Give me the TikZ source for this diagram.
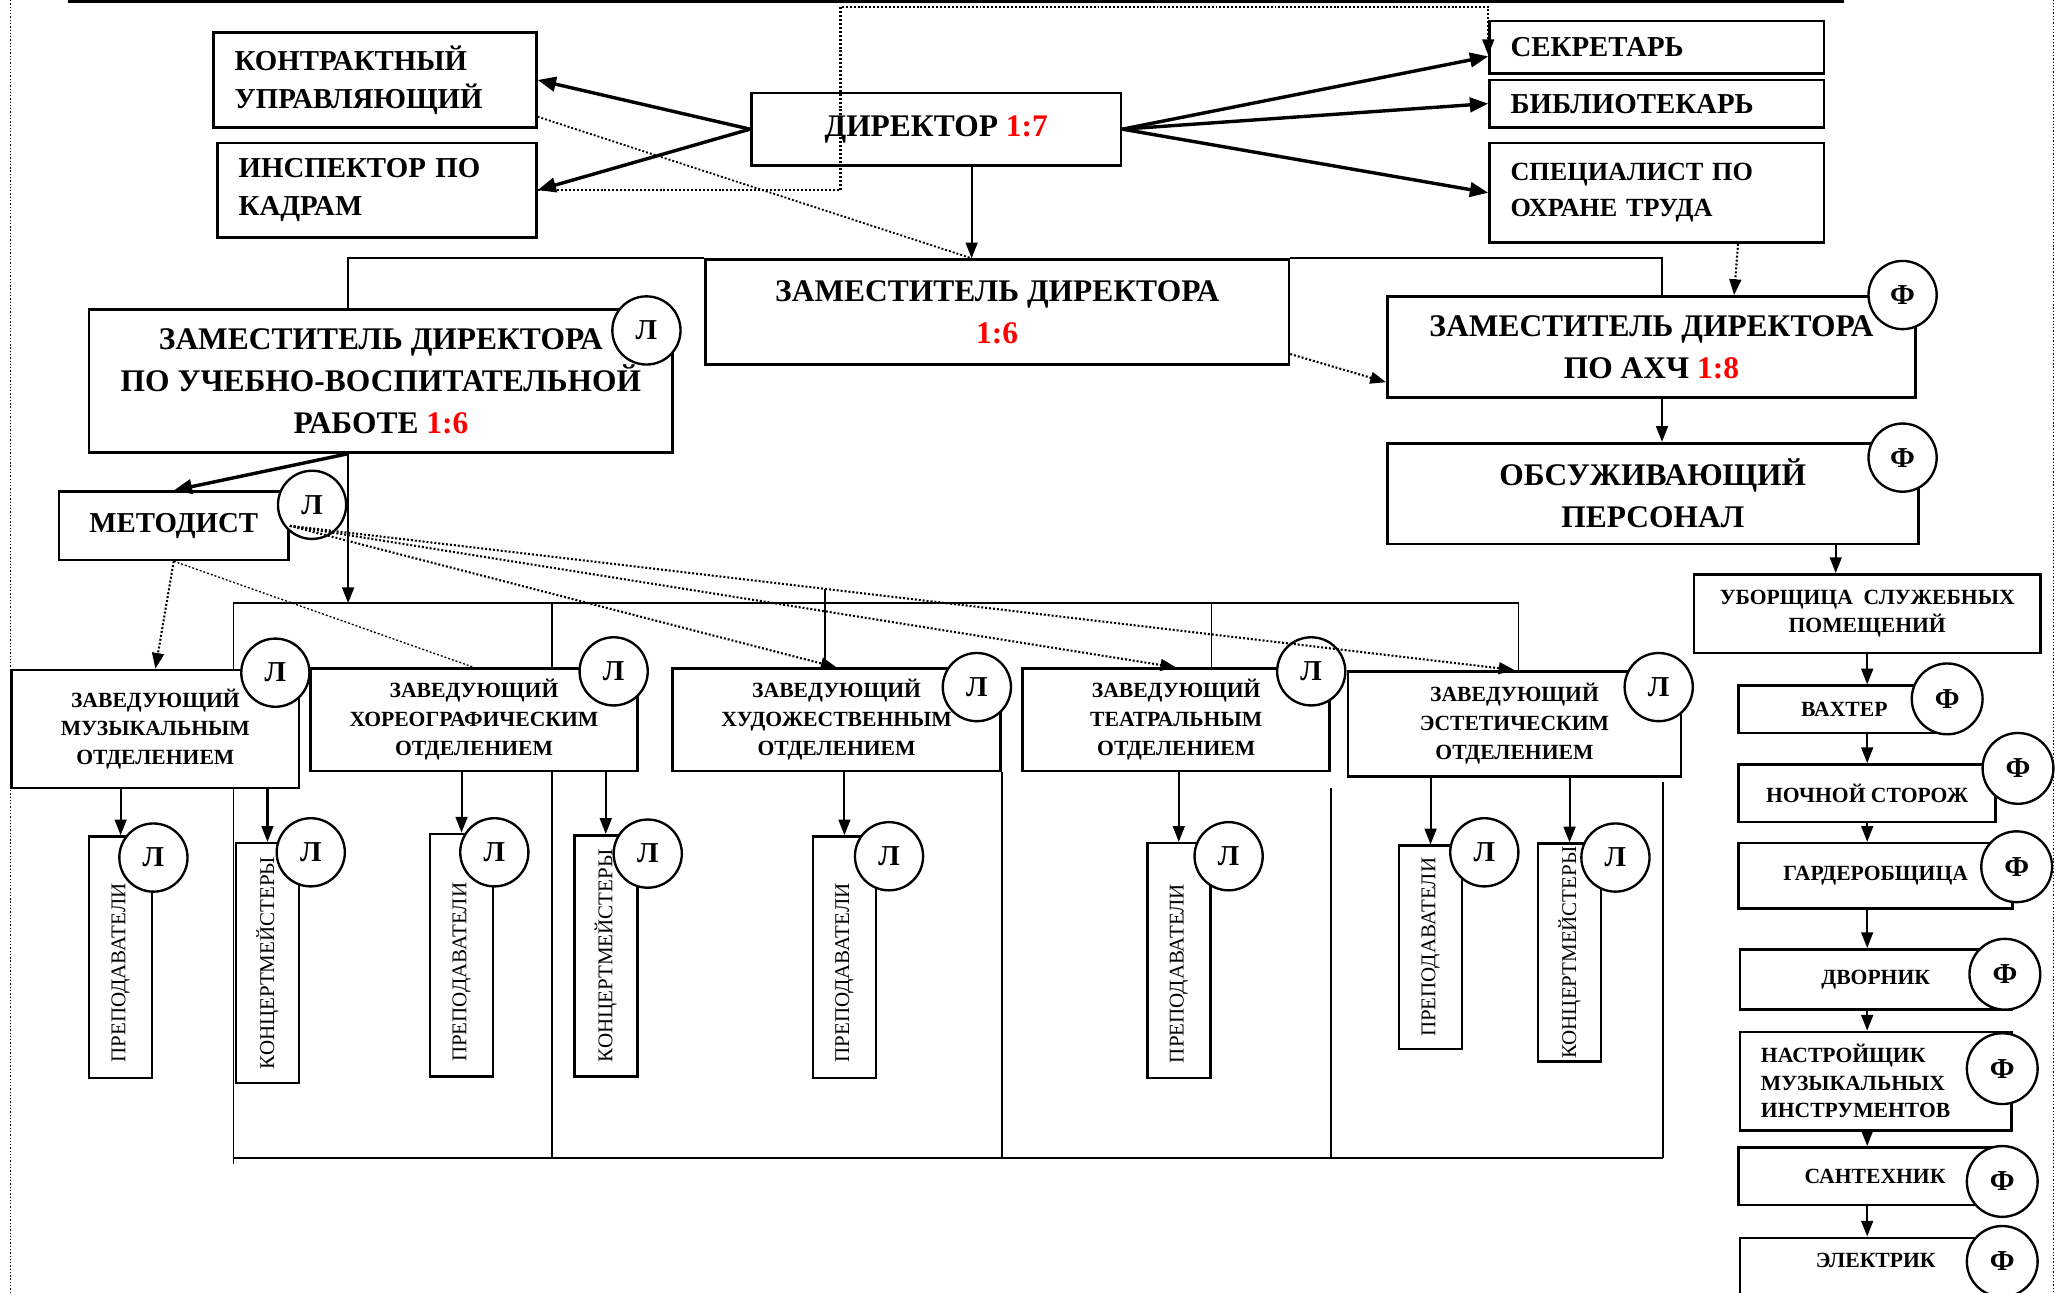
\documentclass[tikz,border=0pt]{standalone}
\usepackage{fontspec}
\setmainfont{Liberation Serif}
\usetikzlibrary{arrows.meta}
\tikzstyle{box} = [rectangle, draw=black, line width=2pt, inner sep=4pt, align=center, font=\bfseries\fontsize{24}{32}\selectfont]
\tikzstyle{boxL} = [rectangle, draw=black, line width=2pt, inner ysep=4pt, inner xsep=16pt, align=left, font=\bfseries\fontsize{22}{29}\selectfont]
\tikzstyle{head} = [rectangle, draw=black, line width=2pt, inner sep=2pt, align=center, font=\bfseries\fontsize{16.5}{22}\selectfont]
\tikzstyle{staff} = [rectangle, draw=black, line width=2pt, inner sep=2pt, align=center, font=\bfseries\fontsize{16.5}{21}\selectfont]
\tikzstyle{vbox} = [rectangle, draw=black, line width=2pt, rotate=90, minimum height=48pt, inner sep=2pt, font=\fontsize{16}{19}\selectfont]
\tikzstyle{circ} = [circle, draw=black, line width=1.8pt, fill=white, minimum size=52pt, inner sep=0pt, font=\bfseries\fontsize{22}{24}\selectfont]
\tikzstyle{thinline} = [line width=1.3pt]
\tikzstyle{arrow} = [line width=1.6pt, -{Triangle[length=12pt,width=9pt]}]
\tikzstyle{arrowB} = [line width=2.6pt, -{Triangle[length=14pt,width=11pt]}]
\tikzstyle{darrow} = [line width=1.6pt, dash pattern=on 1.5pt off 1.5pt, -{Triangle[length=12pt,width=9pt]}]
\tikzstyle{dline} = [line width=1.4pt, dash pattern=on 1.5pt off 1.5pt]
\tikzstyle{dotframe} = [line width=1pt, dash pattern=on 1pt off 1.5pt]
\newcommand{\redtxt}[1]{{\color{red}#1}}

\begin{document}
\begin{tikzpicture}[x=1pt,y=-1pt]
\useasboundingbox (0,0) rectangle (1568,986);
\draw [dotframe] (8,-20) rectangle (1566,1010);
\node (sovet) [rectangle, draw=black, line width=2pt, minimum width=1352pt, minimum height=60pt] at (729,-29) {};

% administration
\node (dir) [box, minimum width=282pt, minimum height=55pt] at (714,98.5) {ДИРЕКТОР \redtxt{1:7}};
\node (kontr) [boxL, text width=214pt, minimum height=72pt] at (286,61) {КОНТРАКТНЫЙ\\УПРАВЛЯЮЩИЙ};
\node (insp) [boxL, text width=211pt, minimum height=72pt] at (287.5,145) {ИНСПЕКТОР ПО\\КАДРАМ};
\node (sekr) [boxL, text width=223pt, minimum height=40pt] at (1263.5,36) {СЕКРЕТАРЬ};
\node (bibl) [boxL, text width=223pt, minimum height=36pt] at (1263.5,79) {БИБЛИОТЕКАРЬ};
\node (spec) [boxL, text width=223pt, minimum height=76pt, font=\bfseries\fontsize{20}{28}\selectfont] at (1263.5,147) {СПЕЦИАЛИСТ ПО\\ОХРАНЕ ТРУДА};

% deputies
\node (zam) [box, minimum width=445pt, minimum height=80pt] at (760.5,238) {ЗАМЕСТИТЕЛЬ ДИРЕКТОРА\\\redtxt{1:6}};
\node (uvr) [box, minimum width=445pt, minimum height=109pt] at (290.5,290.5) {ЗАМЕСТИТЕЛЬ ДИРЕКТОРА\\ПО УЧЕБНО-ВОСПИТАТЕЛЬНОЙ\\РАБОТЕ \redtxt{1:6}};
\node (ahch) [box, minimum width=403pt, minimum height=77pt] at (1259.5,264.5) {ЗАМЕСТИТЕЛЬ ДИРЕКТОРА\\ПО АХЧ \redtxt{1:8}};
\node (obsl) [box, minimum width=405pt, minimum height=77pt] at (1260.5,376.5) {ОБСУЖИВАЮЩИЙ\\ПЕРСОНАЛ};
\node (met) [box, minimum width=175pt, minimum height=52pt, font=\bfseries\fontsize{22}{26}\selectfont] at (132.5,401) {МЕТОДИСТ};
\node (cuvr) [circ] at (493,252) {Л};
\node (cahch) [circ] at (1451,225) {Ф};
\node (cobsl) [circ] at (1451,349) {Ф};
\node (cmet) [circ] at (238,385) {Л};

% service staff
\node (ubor) [staff, minimum width=264pt, minimum height=60pt] at (1424,468) {УБОРЩИЦА\ \ СЛУЖЕБНЫХ\\ПОМЕЩЕНИЙ};
\node (vaht) [staff, minimum width=161pt, minimum height=36pt] at (1406.5,541) {ВАХТЕР};
\node (noch) [staff, minimum width=196pt, minimum height=44pt] at (1424,605) {НОЧНОЙ СТОРОЖ};
\node (gard) [staff, minimum width=209pt, minimum height=50pt] at (1430.5,668) {ГАРДЕРОБЩИЦА};
\node (dvor) [staff, minimum width=207pt, minimum height=46pt] at (1430.5,747) {ДВОРНИК};
\node (nastr) [staff, align=left, text width=175pt, inner xsep=16pt, minimum height=75pt] at (1430.5,824.5) {НАСТРОЙЩИК\\МУЗЫКАЛЬНЫХ\\ИНСТРУМЕНТОВ};
\node (sant) [staff, minimum width=208pt, minimum height=44pt] at (1430,897) {САНТЕХНИК};
\node (elek) [staff, minimum width=207pt, anchor=north, inner ysep=12pt, text depth=40pt] at (1430.5,943) {ЭЛЕКТРИК};
\node (cvaht) [circ, minimum size=54pt] at (1485,533) {Ф};
\node (cnoch) [circ, minimum size=54pt] at (1539,586) {Ф};
\node (cgard) [circ, minimum size=54pt] at (1538,661) {Ф};
\node (cdvor) [circ, minimum size=54pt] at (1529,743) {Ф};
\node (cnastr) [circ, minimum size=54pt] at (1527,815) {Ф};
\node (csant) [circ, minimum size=54pt] at (1527,901) {Ф};
\node (celek) [circ, minimum size=54pt] at (1527,962) {Ф};

% departments
\node (muz) [head, minimum width=219pt, minimum height=90pt] at (118.5,556) {ЗАВЕДУЮЩИЙ\\МУЗЫКАЛЬНЫМ\\ОТДЕЛЕНИЕМ};
\node (chor) [head, minimum width=249pt, minimum height=78pt] at (361.5,549) {ЗАВЕДУЮЩИЙ\\ХОРЕОГРАФИЧЕСКИМ\\ОТДЕЛЕНИЕМ};
\node (chud) [head, minimum width=250pt, minimum height=78pt] at (638,549) {ЗАВЕДУЮЩИЙ\\ХУДОЖЕСТВЕННЫМ\\ОТДЕЛЕНИЕМ};
\node (teat) [head, minimum width=234pt, minimum height=78pt] at (897,549) {ЗАВЕДУЮЩИЙ\\ТЕАТРАЛЬНЫМ\\ОТДЕЛЕНИЕМ};
\node (est) [head, minimum width=254pt, minimum height=80pt] at (1155,552) {ЗАВЕДУЮЩИЙ\\ЭСТЕТИЧЕСКИМ\\ОТДЕЛЕНИЕМ};
\node (cmuz) [circ] at (210,513) {Л};
\node (cchor) [circ] at (468,512) {Л};
\node (cchud) [circ] at (745,524) {Л};
\node (cteat) [circ] at (1000,512) {Л};
\node (cest) [circ] at (1265,524) {Л};

% teachers and accompanists
\node (p1) [vbox, minimum width=184pt] at (92,730) {ПРЕПОДАВАТЕЛИ\hspace*{24pt}};
\node (k1) [vbox, minimum width=183pt] at (204,734.5) {КОНЦЕРТМЕЙСТЕРЫ};
\node (p2) [vbox, minimum width=185pt] at (352,728.5) {ПРЕПОДАВАТЕЛИ\hspace*{26pt}};
\node (k2) [vbox, minimum width=184pt] at (462,729) {КОНЦЕРТМЕЙСТЕРЫ};
\node (p3) [vbox, minimum width=184pt] at (644,730) {ПРЕПОДАВАТЕЛИ\hspace*{24pt}};
\node (p4) [vbox, minimum width=179pt] at (899,732.5) {ПРЕПОДАВАТЕЛИ\hspace*{20pt}};
\node (p5) [vbox, minimum width=155pt] at (1091,722.5) {ПРЕПОДАВАТЕЛИ};
\node (k5) [vbox, minimum width=163pt] at (1197,726.5) {КОНЦЕРТМЕЙСТЕРЫ};
\node (cp1) [circ] at (117,654) {Л};
\node (ck1) [circ] at (237,650) {Л};
\node (cp2) [circ] at (377,650) {Л};
\node (ck2) [circ] at (494,651) {Л};
\node (cp3) [circ] at (678,653) {Л};
\node (cp4) [circ] at (937,653) {Л};
\node (cp5) [circ] at (1132,650) {Л};
\node (ck5) [circ] at (1232,654) {Л};

% director links
\draw [arrowB] (dir.west) -- (kontr.east);
\draw [arrowB] (dir.west) -- (insp.east);
\draw [arrowB] (dir.east) -- ([yshift=-7pt]sekr.west);
\draw [arrowB] (dir.east) -- (bibl.west);
\draw [arrowB] (dir.east) -- (spec.west);
\coordinate (dirS) at ([xshift=27pt]dir.south);
\coordinate (zamtop) at (dirS |- zam.north);
\draw [arrow] (dirS) -- (zamtop);
\coordinate (topc) at (641,5);
\draw [darrow] (insp.east) -| (topc) -| ([yshift=-6pt]sekr.west);
\draw [dline] ([yshift=-28pt]kontr.east) -- (zamtop);
\draw [darrow] ([yshift=-32pt]zam.east) -- ([yshift=-27pt]ahch.west);
\draw [darrow] ([xshift=62pt]spec.south) -- ([xshift=63pt]ahch.north);

% deputies
\coordinate (uvrT) at ([xshift=-25pt]uvr.north);
\coordinate (uvrB) at ([xshift=-25pt]uvr.south);
\draw [thinline] (uvrT) |- (zam.north west);
\draw [thinline] (zam.north east) -| ([xshift=8pt]ahch.north);
\coordinate (ahchS) at ([xshift=8pt]ahch.south);
\draw [arrow] (ahchS) -- (ahchS |- obsl.north);
\coordinate (uborN) at ([xshift=-24pt]ubor.north);
\draw [arrow] (uborN |- obsl.south) -- (uborN);
\draw [arrow] (ubor.south) -- (ubor.south |- vaht.north);
\foreach \a/\b in {vaht/noch, noch/gard, gard/dvor, dvor/nastr, nastr/sant, sant/elek}
  \draw [arrow] (ubor.south |- \a.south) -- (ubor.south |- \b.north);

% methodist and departments
\coordinate (busL) at (178,460);
\draw [arrowB] (uvrB) -- (met.north);
\draw [arrow] (uvrB) -- (uvrB |- busL);
\draw [darrow] (met.south) -- (muz.north);
\draw [dline, line width=1pt] (met.south) -- (chor.north);
\foreach \d in {chud, teat, est}
  \draw [darrow] (met.east) -- (\d.north);
\coordinate (busR) at ([xshift=3pt]est.north |- busL);
\draw [thinline] (busL) -- (busR) -- ([xshift=3pt]est.north);
\draw [thinline] (busL) -- (busL |- muz.north);
\coordinate (busC) at (421,460);
\draw [thinline] (busC) -- (busC |- chor.north);
\draw [thinline] ([xshift=-9pt]chud.north) -- ++(0,-60);
\draw [thinline] ([xshift=27pt]teat.north) -- ++(0,-50);

% bottom frame of departments
\coordinate (botL) at (178,883);
\coordinate (botR) at (1268,883);
\draw [thinline] (botL) -- (botR);
\draw [thinline] (busL |- muz.south) -- ([yshift=-5pt]botL);
\draw [thinline] (busC |- chor.south) -- (busC |- botL);
\draw [thinline] (chud.south east) -- (chud.south east |- botL);
\draw [thinline] ([yshift=-12pt]teat.south east) -- (teat.south east |- botL);
\draw [thinline] (botR) -- ++(0,-287);
\foreach \h/\s in {muz/p1, muz/k1, chor/p2, chor/k2, chud/p3, teat/p4, est/p5, est/k5}
  \draw [arrow] (\h.south -| \s.east) -- (\s.east);
\end{tikzpicture}
\end{document}
